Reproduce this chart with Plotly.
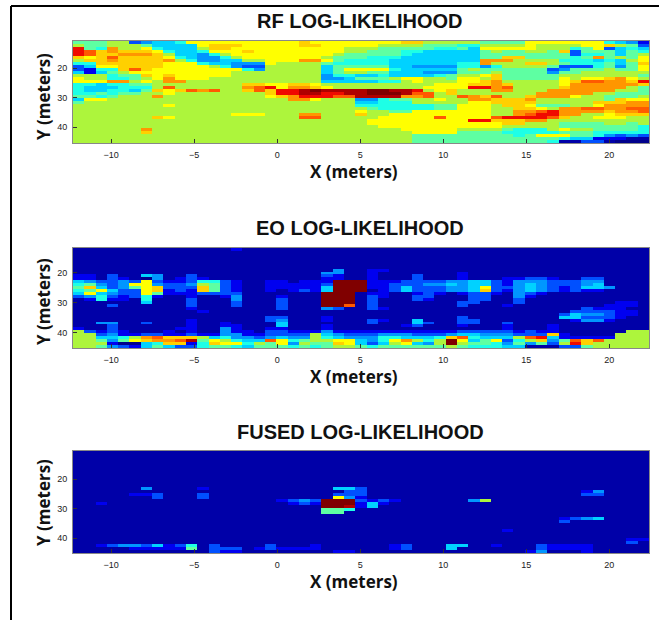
import plotly.graph_objects as go

# Values: each character is one cell level (hex 0..f), 34 rows x 51 columns.
RF_ROWS = [
"77788345569999999 999a99999999aa888 88777799999996542",
"877888755559aaa99 999aa999998888777 6688889888899a873",
"d76b88965558aa999 99999998887777766 75999998886793565",
"dcabaaa96556999a9 99999998877766555 557877887a3777576",
"dcaabbba855468999 99999987777765555 55777777773667578",
"a9acaaaa965446899 99999877766655555 5577aa777767b7879",
"8aabaaaab86445588 999bb976666555555 55bbb888866656589",
"66aaaaaa999655444 98888766666555555 66b888aa87666757a",
"3599aaaa999986433 88888577777554444 66468888733367479",
"3266aca9999999964 88888579999655555 78777777347778779",
"52578999999999888 88888578877555444 77787777477888888",
"888677a9a99999888 88888466556555567 889a7777788888887",
"98866789b99988888 88888445777899887 998a777779899ab98",
"999bb898bb8888888 88888555556689888 99ab888889accbbad",
"665667788888888aa 99aa9888888888899 9aaba88889bbbbbba",
"65556668c888888bc d9bba988888888999 9ddbc8888abbbbb87",
"6556657a9acbc88ac addefeeeeffeed89a 888bb888bbbbbb887",
"66767788988888888 addeeddeefffecc8a 8888888bbbbb88777",
"7767888b888888888 9abdddcceeeebbc88 cbac88abbb9887778",
"59988888888888888 88bb9888446778898 8bbaaab8888887a99",
"78888888888888888 88888888556668888 899aaaa88888aaabb",
"88888888988888888 88888888666666677 9998aa9777889bbbb",
"88888888888888888 88888888876666677 99988aa98bbccbbcc",
"88888888888888888 88888888988779999 99988bbcdbbbbabbc",
"88888888888888999 888bb888a88999999 99988bcddbb889aaa",
"8888888a988888888 888cc8888899999c9 999cddddca8899988",
"88888888888888888 88888888899999999 9ddaaabb888888888",
"88888888888888888 88888888899999999 9999aa88877778878",
"88888888888888888 88888888889999999 99998888877777776",
"888888b8888888888 88888888888899999 88887666898877776",
"888888a8888888888 88888888888889999 77776666677766666",
"88888888888888888 88888888888887777 77777679997764343",
"88888888888888888 88888888888887777 77777777765522211",
"88888888888888888 88888888888887777 77777777611331000",
]

EO_ROWS = [
"11111111111111211 11111111111111111 11111111111111111",
"11111111111111111 11111111111111111 11111111111111111",
"11111111111111111 11111111111111111 11111111111111111",
"11111111111111111 11111111111111111 11111111111111111",
"11111111111111111 11111111111111111 11111111111111111",
"11111111111111111 11111111111111111 11111111111111111",
"11111111111111111 11111111111111111 11111111111111111",
"11111111111111111 11111141122111111 11111111111111111",
"11111111111111111 11111441121111111 21111111111111111",
"22131154113111111 11111321121113111 21111111111111111",
"22132104123211111 11111221121113111 21112233211331111",
"54334393223663211 221222fff22233334 45532444333441111",
"67434994334873211 222223fff22333445 45532454333451111",
"7a53479a333a73211 222225fff22353334 45933454323554111",
"6795339a232a73211 212325fff12353334 45a32454323221111",
"59543397222333311 11111fff122112321 23321432111111111",
"34632362112112411 12111fff132113311 13311421111111111",
"12622161113111411 13111fff131113211 13311311111111111",
"11111151113111311 13111fff131111111 33111311111111221",
"11131111113111311 13111ffc131111111 31112111111112221",
"11111111112111111 13111431132111111 11111111111322211",
"11111111111211111 11111111111111111 11111111113333221",
"11111111111111111 11111111111111111 11111111135443221",
"11111111111111111 33111211111111111 31111111155333211",
"11111111112111111 34111211132115111 33111111112442111",
"11441131112112111 15111111131115311 33113111111111111",
"11131111112112211 15111211111123111 21112111211111111",
"21131111122114211 22111211111111111 11112111211111111",
"83232111212114221 33222422222222222 33333232211111188",
"88342233223224422 33338543334443334 55444333a21111888",
"885568bcaaa856443 4544865444665556a c65558cd522222888",
"887479abbce798655 c96788995469b868f 9579368a47cac8888",
"88820056aa26a9968 794877a953589548f 8776474738da88888",
"88743257533677657 77676788767777778 76665511133788888",
]

FUSED_ROWS = [
"11111111111111111 11111111111111111 11111111111111111",
"11111111111111111 11111111111111111 11111111111111111",
"11111111111111111 11111111111111111 11111111111111111",
"11111111111111111 11111111111111111 11111111111111111",
"11111111111111111 11111111111111111 11111111111111111",
"11111111111111111 11111111111111111 11111111111111111",
"11111111111111111 11111111111111111 11111111111111111",
"11111111111111111 11111111111111111 11111111111111111",
"11111111111111111 11111111111111111 11111111111111111",
"11111111111111111 11111111111111111 11111111111111111",
"11111111111111111 11111111111111111 11111111111111111",
"11111111111111111 11111111111111111 11111111111111111",
"11111141111211111 11111155311111111 11111111111111111",
"11111111111111111 11111113311111111 11111111111241111",
"11111223111311111 11111133311111111 11111111111331111",
"11111113111311111 11111194211111111 11111111111111111",
"11111111111111111 12343fff323211111 14811111111111111",
"11211111111111111 11232fff252111111 11111111111111111",
"11111111111111111 11111ffe251111111 11111111111111111",
"11111111111111111 11111776111111111 11111111111111111",
"11111111111111111 11111771111111111 11111111111111111",
"11111111111111111 11111111111111111 11111111111111111",
"11111111111111111 11111111111111111 11111111123451111",
"11111111111111111 11111111111111111 11111111131111111",
"11111111111111111 11111111111111111 11111111111111111",
"11111111111111111 11111111111111111 11111111111111111",
"11111111111111111 11111111111111111 11112111111111111",
"11111111111111111 11111111111111111 11111111111111111",
"11111111111111111 11111111111111111 11111111111111111",
"11111111111111111 11111111111111111 11111111111111122",
"11111111111111111 11111111111111111 11111111111111131",
"11234435236131111 31112111111231115 51121113222211111",
"11111222227133312 32222111111231115 11111113222211111",
"11111111111132211 11111122111111111 11111124111211111",
]

X_TICKS = [-10, -5, 0, 5, 10, 15, 20]
Y_TICKS = [20, 30, 40]
TITLES = ["RF LOG-LIKELIHOOD", "EO LOG-LIKELIHOOD", "FUSED LOG-LIKELIHOOD"]
X_LABEL = "X (meters)"
Y_LABEL = "Y (meters)"

X_RANGE = (-12.3, 22.4)
Y_RANGES = [(10.8, 45.4), (11.7, 45.0), (10.5, 45.0)]
PANEL_PX = [(41, 143), (248, 348), (451, 553)]
TITLE_PX = [21, 228, 432]
XLABEL_PX = [171, 376, 581]
YLABEL_PX = [97, 302, 503]
W, H = 659, 620
LEFT, RIGHT = 73, 649

JET = ["#00008c", "#0000a8", "#0000f0", "#0050ff", "#0096ff", "#00d2ff", "#1effe6",
       "#5effa2", "#adf53c", "#ffff00", "#ffd000", "#ff9600", "#ff5a00", "#f00a00", "#b00000", "#800000"]
COLORSCALE = [[i / 15, c] for i, c in enumerate(JET)]


def decode(rows):
    out = []
    for r in rows:
        s = r.replace(" ", "")
        assert len(s) == 51, r
        out.append([int(ch, 16) for ch in s])
    return out


def label(xpx, ypx, text, size, family, angle=0):
    fig.add_annotation(xref="paper", yref="paper", x=xpx / W, y=1 - ypx / H,
                       xanchor="center", yanchor="middle", text="<b>%s</b>" % text,
                       showarrow=False, textangle=angle,
                       font=dict(family=family, size=size, color="#111"))


fig = go.Figure()
for i, (rows, (y0, y1), (ptop, pbot)) in enumerate(zip([RF_ROWS, EO_ROWS, FUSED_ROWS], Y_RANGES, PANEL_PX)):
    z = decode(rows)
    nx, ny = len(z[0]), len(z)
    dx = (X_RANGE[1] - X_RANGE[0]) / nx
    dy = (y1 - y0) / ny
    n = "" if i == 0 else str(i + 1)
    fig.add_trace(go.Heatmap(
        z=z, x0=X_RANGE[0] + dx / 2, dx=dx, y0=y0 + dy / 2, dy=dy,
        colorscale=COLORSCALE, zmin=0, zmax=15, showscale=False, zsmooth=False,
        xaxis="x" + n, yaxis="y" + n))
    axis_style = dict(ticks="inside", ticklen=4, tickcolor="#333", tickwidth=1,
                      showgrid=False, zeroline=False, showline=True, mirror=True,
                      linecolor="#888", linewidth=1, ticklabelstandoff=3,
                      tickfont=dict(family="Liberation Sans", size=9, color="#222"))
    fig.layout["xaxis" + n] = dict(
        domain=[LEFT / W, RIGHT / W], range=list(X_RANGE), tickvals=X_TICKS,
        anchor="y" + n, **axis_style)
    fig.layout["yaxis" + n] = dict(
        domain=[1 - pbot / H, 1 - ptop / H], range=[y1, y0], tickvals=Y_TICKS,
        anchor="x" + n, **axis_style)
    label(360.5, TITLE_PX[i], TITLES[i], 20, "Liberation Sans")
    label(354, XLABEL_PX[i], X_LABEL, 17, "Open Sans")
    label(43, YLABEL_PX[i], Y_LABEL, 17, "Open Sans", angle=-90)

FRAME_X, FRAME_Y = 11, 6
fig.add_shape(type="line", xref="paper", yref="paper", x0=FRAME_X / W, x1=FRAME_X / W,
              y0=0, y1=1 - FRAME_Y / H, line=dict(color="black", width=2))
fig.add_shape(type="line", xref="paper", yref="paper", x0=FRAME_X / W, x1=1,
              y0=1 - FRAME_Y / H, y1=1 - FRAME_Y / H, line=dict(color="black", width=2))

fig.update_layout(width=W, height=H, margin=dict(l=0, r=0, t=0, b=0),
                  paper_bgcolor="white", plot_bgcolor="white", showlegend=False)
fig.write_html("out.html", post_script="document.body.style.margin='0';document.body.style.overflow='hidden';",
               config={"displayModeBar": False})
